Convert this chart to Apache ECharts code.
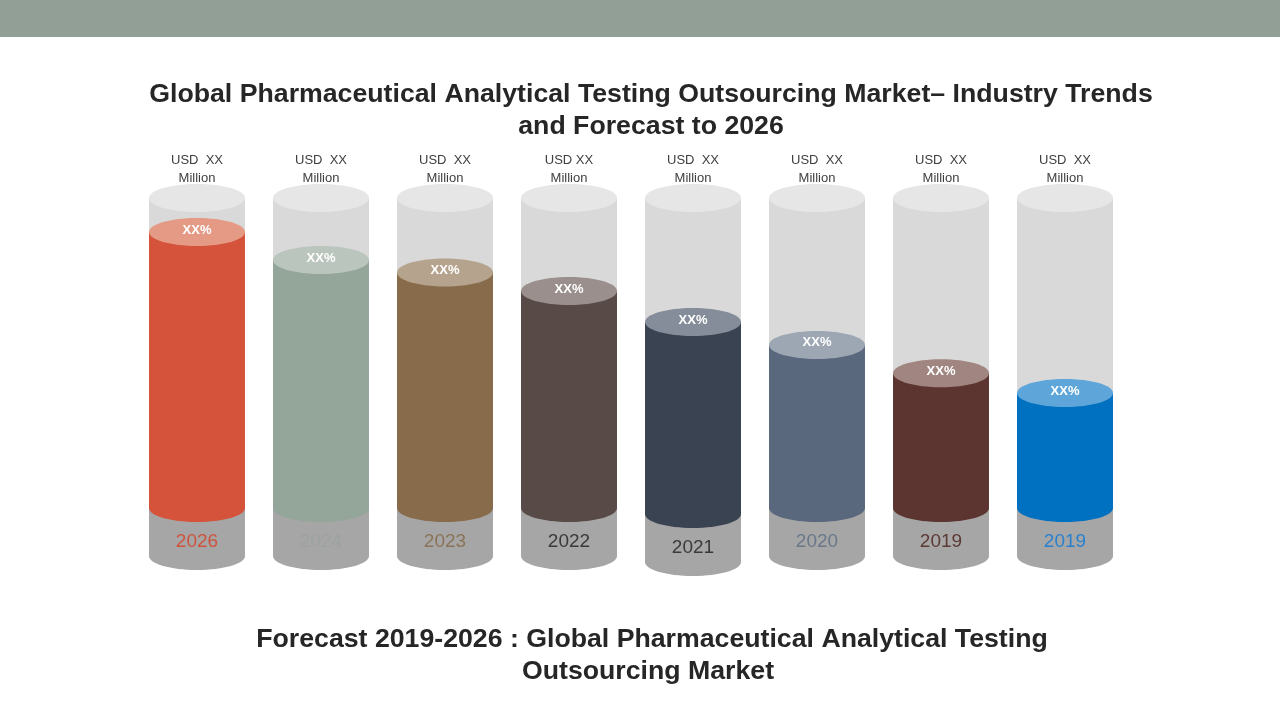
<!DOCTYPE html>
<html><head><meta charset="utf-8">
<script src="https://cdn.jsdelivr.net/npm/echarts@6/dist/echarts.min.js"></script>
<style>html,body{margin:0;padding:0;background:#fff}#c{width:1280px;height:720px}</style>
</head><body><div id="c"></div>
<script>
// ---- data ----
const years = ['2026', '2024', '2023', '2022', '2021', '2020', '2019', '2019'];
const fillValues = [89, 80, 76, 70, 60, 52.6, 43.5, 37.1];
const valueLabels = ['USD  XX\nMillion', 'USD  XX\nMillion', 'USD  XX\nMillion', 'USD XX\nMillion',
                     'USD  XX\nMillion', 'USD  XX\nMillion', 'USD  XX\nMillion', 'USD  XX\nMillion'];
const growthLabels = ['XX%', 'XX%', 'XX%', 'XX%', 'XX%', 'XX%', 'XX%', 'XX%'];
const titleLines = ['Global Pharmaceutical Analytical Testing Outsourcing Market– Industry Trends', 'and Forecast to 2026'];
const subtitleLines = ['Forecast 2019-2026 : Global Pharmaceutical Analytical Testing', 'Outsourcing Market'];

// ---- styles ----
const bodyColors = ['#D4533A', '#94A59A', '#876B4A', '#574A47', '#3A4352', '#5A687D', '#5C3530', '#0070C0'];
const capColors  = ['#E59A86', '#BAC5BD', '#B5A38D', '#9A8F8C', '#858D9A', '#9DA6B3', '#A08580', '#5EA6DA'];
const yearColors = ['#D0533F', '#9DA39F', '#8A7358', '#3A3A3A', '#3A3A3A', '#6A788A', '#5C3A35', '#2A80CF'];
const Y_MIN = -15.5, Y_MAX = 100;
const FONT = 'Liberation Sans, Arial, sans-serif';
const TITLE_FONT = 'bold 26.7px "Liberation Sans", Arial, sans-serif';

const seriesData = fillValues.map((v, i) => [i, v]);

function renderItem(params, api) {
  const i = api.value(0);
  const v = api.value(1);
  const bw = api.size([1, 0])[0];
  const rx = bw * 0.387;
  const ry = 14;
  const p0 = api.coord([i, 0]);
  const cx = p0[0];
  const extra = i === 4 ? 6 : 0;
  const y0 = p0[1] + extra;
  const yTop = api.coord([i, Y_MAX])[1];
  const yBase = api.coord([i, Y_MIN])[1] + extra;
  const yFill = api.coord([i, v])[1];
  const L = cx - rx;
  return {
    type: 'group',
    children: [
      { type: 'rect', shape: { x: L, y: yTop, width: 2 * rx, height: y0 - yTop }, style: { fill: '#D9D9D9' } },
      { type: 'ellipse', shape: { cx: cx, cy: yTop, rx: rx, ry: ry }, style: { fill: '#E6E6E6' } },
      { type: 'rect', shape: { x: L, y: y0, width: 2 * rx, height: yBase - y0 }, style: { fill: '#A6A6A6' } },
      { type: 'ellipse', shape: { cx: cx, cy: yBase, rx: rx, ry: ry }, style: { fill: '#A6A6A6' } },
      { type: 'rect', shape: { x: L, y: yFill, width: 2 * rx, height: y0 - yFill }, style: { fill: bodyColors[i] } },
      { type: 'ellipse', shape: { cx: cx, cy: y0, rx: rx, ry: ry }, style: { fill: bodyColors[i] } },
      { type: 'ellipse', shape: { cx: cx, cy: yFill, rx: rx, ry: ry }, style: { fill: capColors[i] } },
      { type: 'text', style: { text: growthLabels[i], x: cx, y: yFill - 2, align: 'center', verticalAlign: 'middle',
          fill: '#FFFFFF', fontSize: 13, fontWeight: 'bold', fontFamily: FONT } },
      { type: 'text', style: { text: years[i], x: cx, y: y0 + 34, align: 'center', verticalAlign: 'middle',
          fill: yearColors[i], fontSize: 19, fontFamily: FONT } },
      { type: 'text', style: { text: valueLabels[i], x: cx, y: yTop - 11, align: 'center', verticalAlign: 'bottom',
          fill: '#404040', fontSize: 13, lineHeight: 18, fontFamily: FONT } }
    ]
  };
}

function textLine(str, x, y) {
  return { type: 'text', x: x, y: y, style: { text: str, font: TITLE_FONT, fill: '#262626', textAlign: 'center', textVerticalAlign: 'middle' } };
}

const chart = echarts.init(document.getElementById('c'), null, { renderer: 'canvas' });
chart.setOption({
  backgroundColor: '#FFFFFF',
  animation: false,
  graphic: [
    { type: 'rect', left: 0, top: 0, shape: { width: 1280, height: 37 }, style: { fill: '#919F96' }, z: -1 },
    textLine(titleLines[0], 651, 95),
    textLine(titleLines[1], 651, 127),
    textLine(subtitleLines[0], 652, 640),
    textLine(subtitleLines[1], 648, 672)
  ],
  grid: { left: 135, right: 153, top: 198, bottom: 164 },
  xAxis: { type: 'category', data: years.map((y, i) => i), show: false, boundaryGap: true },
  yAxis: { type: 'value', min: Y_MIN, max: Y_MAX, show: false },
  series: [{ type: 'custom', renderItem: renderItem, data: seriesData, clip: false }]
});
</script></body></html>
